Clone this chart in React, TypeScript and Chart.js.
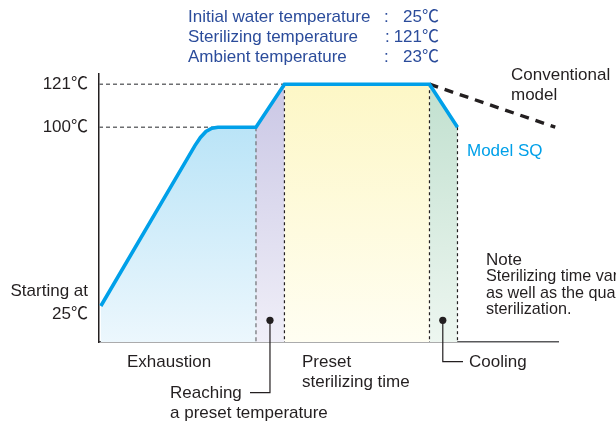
import React, { useEffect, useRef } from "react";
import { Chart, registerables } from "chart.js";

Chart.register(...registerables);

const FONT = '"Liberation Sans", "Noto Sans CJK JP", sans-serif';

// Schematic process profile: time (arbitrary units 0..100) vs temperature (℃, schematic scale)
const profileX = [0.4, 20.9, 22.1, 23.3, 24.6, 25.9, 34.2, 40.4, 72.0, 78.1];
const profileY = [12.6, 91.0, 95.0, 97.9, 99.5, 100, 100, 121, 121, 100];
// Conventional model cooling
const conventionalX = [72.0, 99.4];
const conventionalY = [121, 100];
// Phase boundaries: exhaustion | reaching | preset sterilizing | cooling
const phaseX = [0.4, 34.2, 40.4, 72.0, 78.1];
const phaseTopY = [12.6, 100, 121, 121, 100];
// Reference temperatures on the axis
const yTicks = [100, 121];
// Callout markers
const markerX = [37.25, 74.9];
const markerY = [5.6, 5.6];
const reachLeaderX = [37.25, 37.25, 32.9];
const reachLeaderY = [5.6, -29.7, -29.7];
const coolLeaderX = [74.9, 74.9, 79.3];
const coolLeaderY = [5.6, -14.6, -14.6];

const Y_MIN = -5;
const Y_MAX = 126;

const TEXT = "#231f20";
const BLUE_TEXT = "#2b4c9b";
const CYAN = "#00a0e9";

type Lbl = { t: string; x: number; y: number; size: number; color: string; align: CanvasTextAlign };
const LABELS: Lbl[] = [
  { t: "Initial water temperature", x: 188, y: 22, size: 17, color: BLUE_TEXT, align: "left" },
  { t: ":", x: 384, y: 22, size: 17, color: BLUE_TEXT, align: "left" },
  { t: "25℃", x: 439, y: 22, size: 17, color: BLUE_TEXT, align: "right" },
  { t: "Sterilizing temperature", x: 188, y: 42, size: 17, color: BLUE_TEXT, align: "left" },
  { t: ":", x: 385, y: 42, size: 17, color: BLUE_TEXT, align: "left" },
  { t: "121℃", x: 439, y: 42, size: 17, color: BLUE_TEXT, align: "right" },
  { t: "Ambient temperature", x: 188, y: 62, size: 17, color: BLUE_TEXT, align: "left" },
  { t: ":", x: 384, y: 62, size: 17, color: BLUE_TEXT, align: "left" },
  { t: "23℃", x: 439, y: 62, size: 17, color: BLUE_TEXT, align: "right" },
  { t: "Starting at", x: 88, y: 296, size: 17, color: TEXT, align: "right" },
  { t: "25℃", x: 88, y: 319, size: 17, color: TEXT, align: "right" },
  { t: "Exhaustion", x: 127, y: 367, size: 17, color: TEXT, align: "left" },
  { t: "Preset", x: 302, y: 367, size: 17, color: TEXT, align: "left" },
  { t: "sterilizing time", x: 302, y: 387, size: 17, color: TEXT, align: "left" },
  { t: "Cooling", x: 469, y: 367, size: 17, color: TEXT, align: "left" },
  { t: "Reaching", x: 170, y: 398, size: 17, color: TEXT, align: "left" },
  { t: "a preset temperature", x: 170, y: 418, size: 17, color: TEXT, align: "left" },
  { t: "Conventional", x: 511, y: 80, size: 17, color: TEXT, align: "left" },
  { t: "model", x: 511, y: 100, size: 17, color: TEXT, align: "left" },
  { t: "Model SQ", x: 467, y: 156, size: 17, color: CYAN, align: "left" },
  { t: "Note", x: 486, y: 265, size: 17, color: TEXT, align: "left" },
  { t: "Sterilizing time varies", x: 486, y: 281, size: 16.2, color: TEXT, align: "left" },
  { t: "as well as the quantity", x: 486, y: 297.5, size: 16.2, color: TEXT, align: "left" },
  { t: "sterilization.", x: 486, y: 314, size: 16.2, color: TEXT, align: "left" },
];

const pts = (xs: number[], ys: number[]) => xs.map((x, i) => ({ x, y: ys[i] }));
const segment = (a: number, b: number) =>
  pts(profileX, profileY).filter((p) => p.x >= a - 1e-9 && p.x <= b + 1e-9);

const grad = (top: string, bottom: string, topVal: number) => (ctx: any) => {
  const chart = ctx.chart;
  const area = chart.chartArea;
  if (!area) return top;
  const y0 = chart.scales.y.getPixelForValue(topVal);
  const g = chart.ctx.createLinearGradient(0, y0, 0, area.bottom);
  g.addColorStop(0, top);
  g.addColorStop(1, bottom);
  return g;
};

const textPlugin = {
  id: "annotText",
  afterDraw(chart: any) {
    const c = chart.ctx as CanvasRenderingContext2D;
    c.save();
    c.textBaseline = "alphabetic";
    for (const l of LABELS) {
      c.font = `${l.size}px ${FONT}`;
      c.fillStyle = l.color;
      c.textAlign = l.align;
      c.fillText(l.t, l.x, l.y);
    }
    c.restore();
  },
};

const NONE = "rgba(0,0,0,0)";

export default function App() {
  const ref = useRef<HTMLCanvasElement | null>(null);

  useEffect(() => {
    if (!ref.current) return;
    const base = { pointRadius: 0, tension: 0, fill: false as any };
    const dividers = phaseX.slice(1).map((x, i) => ({
      ...base,
      data: pts([x, x], [phaseTopY[i + 1], Y_MIN]),
      borderColor: i === 0 ? "#6d6e71" : "#231f20",
      borderWidth: 1.2,
      borderDash: i === 0 ? [4, 3] : [3, 3],
    }));
    const chart = new Chart(ref.current, {
      type: "line",
      data: {
        datasets: [
          // main Model SQ profile
          {
            ...base,
            data: pts(profileX, profileY),
            borderColor: CYAN,
            borderWidth: 3.6,
            borderJoinStyle: "miter",
            borderCapStyle: "butt",
          },
          // conventional model
          {
            ...base,
            data: pts(conventionalX, conventionalY),
            borderColor: "#231f20",
            borderWidth: 3.4,
            borderDash: [9, 7],
            clip: false,
          },
          // markers
          {
            ...base,
            data: pts(markerX, markerY),
            showLine: false,
            pointRadius: 3.6,
            pointBackgroundColor: "#231f20",
            pointBorderWidth: 0,
            pointBorderColor: NONE,
          },
          {
            ...base,
            data: pts(reachLeaderX, reachLeaderY),
            borderColor: "#231f20",
            borderWidth: 1.2,
            clip: false,
          },
          {
            ...base,
            data: pts(coolLeaderX, coolLeaderY),
            borderColor: "#231f20",
            borderWidth: 1.2,
            clip: false,
          },
          // reference lines
          {
            ...base,
            data: pts([0, phaseX[2]], [yTicks[1], yTicks[1]]),
            borderColor: "#6d6e71",
            borderWidth: 1.5,
            borderDash: [4, 3],
          },
          {
            ...base,
            data: pts([0, profileX[5]], [yTicks[0], yTicks[0]]),
            borderColor: "#6d6e71",
            borderWidth: 1.5,
            borderDash: [4, 3],
          },
          ...dividers,
          // phase fills
          {
            ...base,
            data: segment(phaseX[0], phaseX[1]),
            borderColor: NONE,
            borderWidth: 0,
            fill: "start",
            backgroundColor: grad("#bae4f7", "#ecf7fd", 100),
          },
          {
            ...base,
            data: segment(phaseX[1], phaseX[2]),
            borderColor: NONE,
            borderWidth: 0,
            fill: "start",
            backgroundColor: grad("#cac7e5", "#f0eff8", 121),
          },
          {
            ...base,
            data: segment(phaseX[2], phaseX[3]),
            borderColor: NONE,
            borderWidth: 0,
            fill: "start",
            backgroundColor: grad("#fdf7c6", "#fffef2", 121),
          },
          {
            ...base,
            data: segment(phaseX[3], phaseX[4]),
            borderColor: NONE,
            borderWidth: 0,
            fill: "start",
            backgroundColor: grad("#c1e0cf", "#edf6f0", 121),
          },
        ] as any,
      },
      options: {
        animation: false,
        responsive: false,
        devicePixelRatio: 1,
        events: [],
        layout: { padding: { left: 40, right: 58, top: 74, bottom: 83 } },
        plugins: { legend: { display: false }, tooltip: { enabled: false } },
        scales: {
          x: {
            type: "linear",
            min: 0,
            max: 100,
            ticks: { display: false },
            grid: { display: false, drawTicks: false },
            border: { display: true, color: "#58595b", width: 1.5 },
            afterFit: (s: any) => {
              s.height = 0;
            },
          },
          y: {
            type: "linear",
            min: Y_MIN,
            max: Y_MAX,
            afterBuildTicks: (s: any) => {
              s.ticks = yTicks.map((v) => ({ value: v }));
            },
            ticks: {
              callback: (v: any) => `${v}℃`,
              font: { size: 17, family: FONT },
              color: TEXT,
              padding: 11,
            },
            grid: { display: false, drawTicks: false },
            border: { display: true, color: "#231f20", width: 1.5 },
            afterFit: (s: any) => {
              s.width = 59;
            },
          },
        },
      } as any,
      plugins: [textPlugin],
    });
    return () => chart.destroy();
  }, []);

  return (
    <div
      style={{
        position: "fixed",
        left: 0,
        top: 0,
        width: 616,
        height: 425,
        overflow: "hidden",
        background: "#ffffff",
      }}
    >
      <canvas ref={ref} width={616} height={425} style={{ display: "block" }} />
    </div>
  );
}
